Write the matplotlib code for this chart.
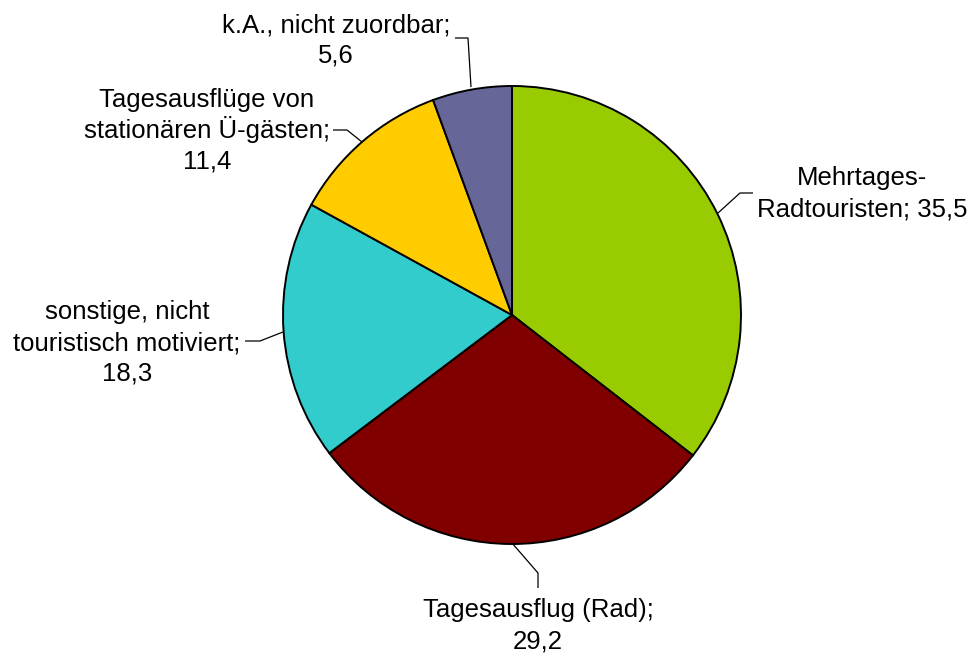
import matplotlib
matplotlib.use("Agg")
import matplotlib.pyplot as plt

# Anteile der Nutzergruppen in Prozent
categories = [
    "Mehrtages-\nRadtouristen",
    "Tagesausflug (Rad)",
    "sonstige, nicht\ntouristisch motiviert",
    "Tagesausflüge von\nstationären Ü-gästen",
    "k.A., nicht zuordbar",
]
values = [35.5, 29.2, 18.3, 11.4, 5.6]
colors = ["#99CC00", "#800000", "#33CCCC", "#FFCC00", "#666699"]

W, H = 973, 655
CX, CY, R = 512, 315, 229

plt.rcParams["font.family"] = ["Liberation Sans", "DejaVu Sans"]

fig = plt.figure(figsize=(W / 100, H / 100), dpi=100)
ax = fig.add_axes([0, 0, 1, 1])


def fy(py):
    # pixel row -> data y
    return H - py


ax.pie(values, colors=colors, startangle=90, counterclock=False,
       center=(CX, fy(CY)), radius=R,
       wedgeprops=dict(edgecolor="black", linewidth=1.4))
ax.set_xlim(0, W)
ax.set_ylim(0, H)
ax.set_aspect("equal")
ax.axis("off")


def fmt(v):
    return f"{v:.1f}".replace(".", ",")


labels = [
    f"{categories[0]}; {fmt(values[0])}",
    f"{categories[1]};\n{fmt(values[1])}",
    f"{categories[2]};\n{fmt(values[2])}",
    f"{categories[3]};\n{fmt(values[3])}",
    f"{categories[4]};\n{fmt(values[4])}",
]
# centre x and baseline of first line (pixel rows), fixed line pitch
label_pos = [(862, 185), (538, 617), (127, 319), (207, 107), (336, 32)]
PITCH = 31

# leader lines in pixel coordinates
leaders = [
    [(718, 213), (740, 193), (753, 193)],
    [(512, 543), (538, 573), (538, 588)],
    [(283, 332), (260, 341), (245, 341)],
    [(362, 142), (347, 130), (333, 130)],
    [(471, 87), (468, 38), (455, 38)],
]

for txt, (x, y) in zip(labels, label_pos):
    for i, line in enumerate(txt.split("\n")):
        ax.text(x, fy(y + i * PITCH), line, ha="center", va="baseline",
                fontsize=18.5, color="black")

for pts in leaders:
    ax.plot([p[0] for p in pts], [fy(p[1]) for p in pts],
            color="black", lw=0.9, solid_capstyle="butt")

fig.savefig("out.png", dpi=100)
